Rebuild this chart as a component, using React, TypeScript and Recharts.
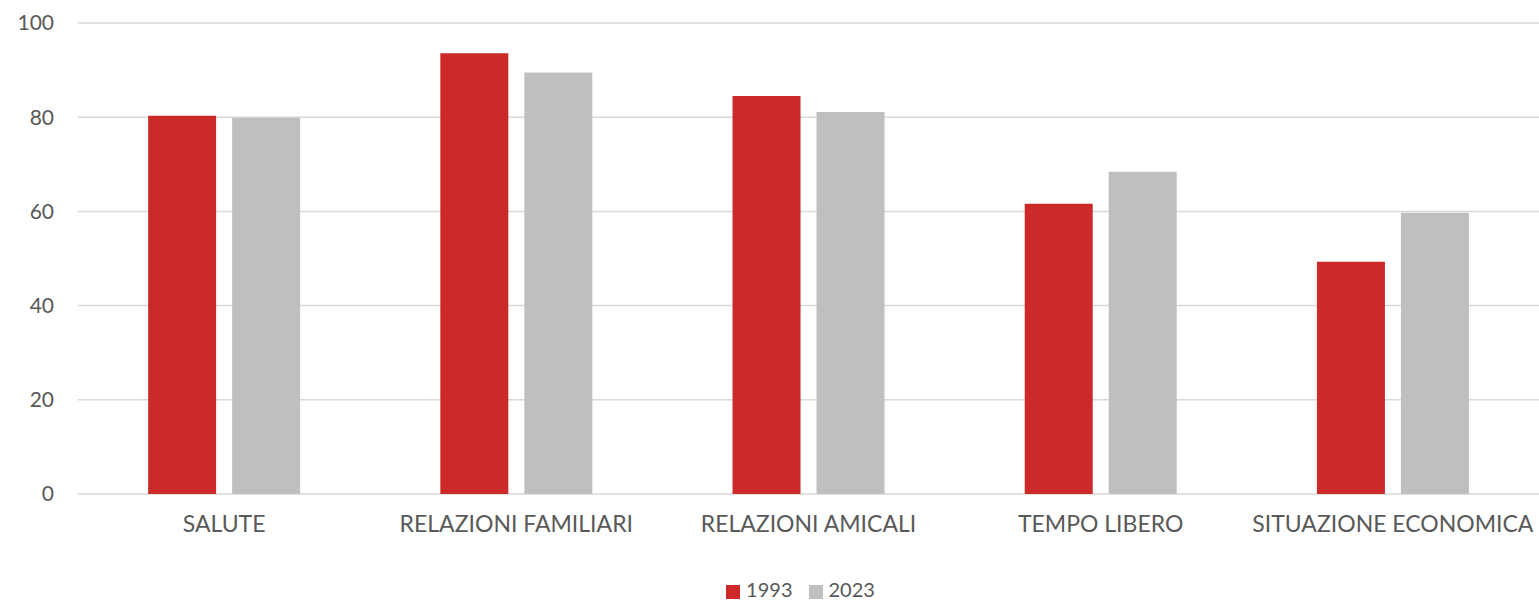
import React from 'react';
import { BarChart, Bar, XAxis, YAxis, CartesianGrid, Legend } from 'recharts';

const categories = ['SALUTE', 'RELAZIONI FAMILIARI', 'RELAZIONI AMICALI', 'TEMPO LIBERO', 'SITUAZIONE ECONOMICA'];
const values1993 = [80.3, 93.6, 84.5, 61.6, 49.3];
const values2023 = [79.9, 89.5, 81.1, 68.4, 59.7];
const yTicks = [0, 20, 40, 60, 80, 100];

const data = categories.map((name, i) => ({
  name,
  '1993': values1993[i],
  '2023': values2023[i],
}));

const FONT = 'Lato, "Open Sans", sans-serif';

export default function App() {
  return (
    <div style={{ position: 'absolute', left: 0, top: 0, width: 1539, height: 600, background: '#fff' }}>
      <BarChart
        width={1539}
        height={600}
        data={data}
        margin={{ top: 23, right: 0, left: 0, bottom: 0 }}
        barCategoryGap="24%"
        barGap={16}
      >
        <CartesianGrid vertical={false} stroke="#d9d9d9" strokeWidth={1.5} />
        <XAxis
          dataKey="name"
          height={66}
          axisLine={false}
          tickLine={false}
          tickSize={0}
          tickMargin={22}
          interval={0}
          tick={{ fill: '#595959', fontSize: 23, fontFamily: FONT }}
        />
        <YAxis
          width={78}
          domain={[0, 100]}
          ticks={yTicks}
          axisLine={false}
          tickLine={false}
          tickSize={0}
          tickMargin={24}
          tick={{ fill: '#595959', fontSize: 21, fontFamily: FONT }}
        />
        <Legend
          verticalAlign="bottom"
          iconType="square"
          iconSize={14}
          wrapperStyle={{ height: 40, boxSizing: 'border-box', paddingTop: 18, paddingLeft: 78, fontFamily: FONT, fontSize: 20, lineHeight: '22px' }}
          formatter={(value: string) => <span style={{ color: '#595959', marginLeft: 2, marginRight: 6 }}>{value}</span>}
        />
        <Bar dataKey="1993" fill="#cc2929" isAnimationActive={false} />
        <Bar dataKey="2023" fill="#bfbfbf" isAnimationActive={false} />
      </BarChart>
    </div>
  );
}
